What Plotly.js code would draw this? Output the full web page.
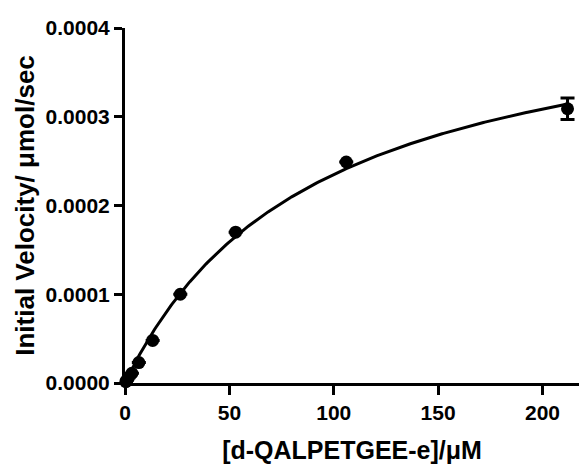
<!DOCTYPE html>
<html>
<head>
<meta charset="utf-8">
<script src="https://cdn.plot.ly/plotly-3.0.1.min.js"></script>
<style>html,body{margin:0;padding:0;background:#fff;}#chart{width:579px;height:467px;}</style>
</head>
<body>
<div id="chart"></div>
<script>
// Substrate concentration (µM), two-fold dilution series
const concentration = [0.41, 0.83, 1.66, 3.31, 6.63, 13.25, 26.5, 53, 106, 212];
// Initial velocity (µmol/sec)
const velocity = [0.0000015, 0.000003, 0.000006, 0.000011, 0.000023, 0.000048, 0.0001, 0.00017, 0.000249, 0.000309];
// Error (SEM) per point
const velocityError = [0, 0, 0, 0, 0, 0, 0, 0, 0, 0.000012];
const xTickValues = [0, 50, 100, 150, 200];
const yTickValues = [0, 0.0001, 0.0002, 0.0003, 0.0004];
const xTitle = "[d-QALPETGEE-e]/μM";
const yTitle = "Initial Velocity/ μmol/sec";

// Michaelis–Menten least-squares fit of the data (grid search over Km, closed-form Vmax)
function fitMM(S, v) {
  let best = {sse: Infinity, km: 1, vmax: 0};
  for (let km = 1; km <= 500; km += 0.1) {
    let sfy = 0, sff = 0;
    for (let i = 0; i < S.length; i++) {
      const f = S[i] / (km + S[i]);
      sfy += f * v[i]; sff += f * f;
    }
    const vmax = sfy / sff;
    let sse = 0;
    for (let i = 0; i < S.length; i++) {
      const r = v[i] - vmax * S[i] / (km + S[i]);
      sse += r * r;
    }
    if (sse < best.sse) best = {sse, km, vmax};
  }
  return best;
}
const fit = fitMM(concentration, velocity);
const maxS = Math.max(...concentration);
const curveX = [], curveY = [];
for (let i = 0; i <= 300; i++) {
  const s = maxS * i / 300;
  curveX.push(s);
  curveY.push(fit.vmax * s / (fit.km + s));
}

const font = {family: "Liberation Sans, Arial, sans-serif", color: "#000", weight: "bold"};

const traces = [
  {x: curveX, y: curveY, mode: "lines", type: "scatter", cliponaxis: false,
   line: {color: "#000", width: 3}, hoverinfo: "skip", showlegend: false},
  {x: concentration, y: velocity, mode: "markers", type: "scatter", cliponaxis: false,
   marker: {color: "#000", size: 13},
   error_y: {type: "data", array: velocityError, visible: true, color: "#000", thickness: 3, width: 7},
   showlegend: false}
];

const layout = {
  width: 579, height: 467,
  margin: {l: 125, r: 0, t: 28, b: 84},
  paper_bgcolor: "#fff", plot_bgcolor: "#fff",
  showlegend: false,
  xaxis: {
    range: [0, 217.5], showgrid: false, zeroline: false,
    showline: true, linecolor: "#000", linewidth: 3,
    ticks: "outside", ticklen: 9, tickwidth: 3, tickcolor: "#000",
    tickvals: xTickValues, ticktext: xTickValues.map(String),
    tickfont: Object.assign({size: 21}, font),
    title: {text: xTitle, font: Object.assign({size: 25}, font), standoff: 19},
    automargin: false
  },
  yaxis: {
    range: [0, 0.0004], showgrid: false, zeroline: false,
    showline: true, linecolor: "#000", linewidth: 3,
    ticks: "outside", ticklen: 8, tickwidth: 3, tickcolor: "#000",
    tickvals: yTickValues, ticktext: yTickValues.map(v => v.toFixed(4)),
    tickfont: Object.assign({size: 21}, font),
    title: {text: yTitle, font: Object.assign({size: 26}, font), standoff: 4},
    automargin: false
  }
};

Plotly.newPlot("chart", traces, layout, {displayModeBar: false, staticPlot: true});
</script>
</body>
</html>
